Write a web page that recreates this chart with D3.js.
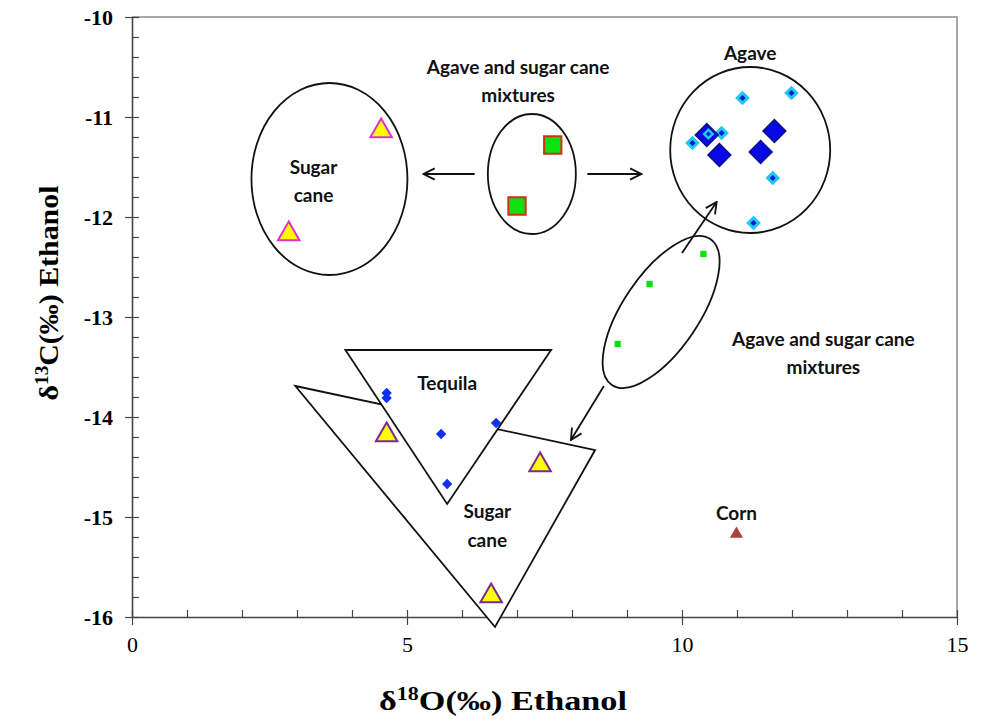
<!DOCTYPE html>
<html><head><meta charset="utf-8">
<script src="https://cdn.jsdelivr.net/npm/d3@7/dist/d3.min.js"></script>
<style>body{margin:0;background:#fff;}svg{display:block;}</style>
</head><body>
<svg id="chart" width="1000" height="724"></svg>
<script>
// ---------- data ----------
const xTicks = [0, 5, 10, 15];
const yTicks = [-10, -11, -12, -13, -14, -15, -16];

// Agave (large diamonds)
const agaveLargeX = [10.45, 10.68, 11.43, 11.68];
const agaveLargeY = [-11.18, -11.38, -11.35, -11.14];
// Agave (small diamonds)
const agaveSmallX = [11.10, 11.99, 10.19, 10.72, 10.48, 11.65, 11.30];
const agaveSmallY = [-10.81, -10.76, -11.26, -11.16, -11.17, -11.61, -12.06];
// Sugar cane (top ellipse)
const caneTopX = [4.53, 2.85];
const caneTopY = [-11.14, -12.17];
// Mixtures (top, squares)
const mixTopX = [7.65, 7.00];
const mixTopY = [-11.28, -11.89];
// Mixtures (small green squares)
const mixSmallX = [10.39, 9.41, 8.83];
const mixSmallY = [-12.37, -12.67, -13.27];
// Tequila (small blue diamonds)
const tequilaX = [4.63, 4.63, 5.62, 6.62, 5.73];
const tequilaY = [-13.76, -13.81, -14.17, -14.06, -14.67];
// Sugar cane (bottom triangles)
const caneBotX = [4.63, 7.42, 6.53];
const caneBotY = [-14.18, -14.48, -15.79];
// Corn
const cornX = [10.99];
const cornY = [-15.17];

// Region outlines (data coordinates)
const caneRegionX = [2.97, 8.42, 6.60];
const caneRegionY = [-13.69, -14.33, -16.10];
const tequilaRegionX = [3.88, 7.62, 5.73];
const tequilaRegionY = [-13.33, -13.33, -14.87];

// ---------- layout ----------
const svg = d3.select("#chart");
const L = 132, R = 957, T = 17, B = 617;
const x = d3.scaleLinear().domain([0, 15]).range([L, R]);
const y = d3.scaleLinear().domain([-16, -10]).range([B, T]);
const zip = (a, b) => a.map((v, i) => [v, b[i]]);
const kx = (R - L) / 15, ky = (B - T) / 6;

// plot frame (top + right, gray)
svg.append("path").attr("d", `M${L},${T}H${R}V${B}`).attr("fill", "none")
  .attr("stroke", "#8c8c8c").attr("stroke-width", 1.5);

// axes
const fmt = d => String(d);
const yAxis = svg.append("g").attr("transform", `translate(${L},0)`)
  .call(d3.axisLeft(y).tickValues(yTicks).tickFormat(fmt).tickSize(7).tickSizeOuter(0));
const yMinor = svg.append("g").attr("transform", `translate(${L},0)`)
  .call(d3.axisRight(y).tickValues(d3.range(-16, -9.99, 0.2)).tickFormat("").tickSize(7).tickSizeOuter(0));
const xAxis = svg.append("g").attr("transform", `translate(0,${B})`)
  .call(d3.axisBottom(x).tickValues(xTicks).tickFormat(fmt).tickSize(8).tickSizeOuter(0));
const xMinor = svg.append("g").attr("transform", `translate(0,${B})`)
  .call(d3.axisTop(x).tickValues(d3.range(0, 15.01, 1)).tickFormat("").tickSize(7).tickSizeOuter(0));
[yAxis, yMinor, xAxis, xMinor].forEach(g => {
  g.select(".domain").attr("stroke", "#444").attr("stroke-width", 1.6);
  g.selectAll(".tick line").attr("stroke", "#444").attr("stroke-width", 1.2);
});
yMinor.select(".domain").remove(); xMinor.select(".domain").remove();
yAxis.selectAll(".tick text").attr("font-family", "Liberation Serif").attr("font-weight", "bold")
  .attr("font-size", 22).attr("fill", "#000").attr("x", -19).attr("dy", "0.35em");
xAxis.selectAll(".tick text").attr("font-family", "Liberation Serif")
  .attr("font-size", 22).attr("fill", "#000").attr("y", 19).attr("dy", "0.71em");

// axis titles
const yt = svg.append("text").attr("transform", "translate(58,293) rotate(-90)")
  .attr("text-anchor", "middle").attr("font-family", "Liberation Serif").attr("font-weight", "bold")
  .attr("font-size", 28).attr("fill", "#000").attr("textLength", 215).attr("lengthAdjust", "spacingAndGlyphs");
yt.append("tspan").text("δ");
yt.append("tspan").text("13").attr("font-size", 18).attr("dy", -10);
yt.append("tspan").text("C(‰) Ethanol").attr("dy", 10);
const xt = svg.append("text").attr("transform", "translate(503,710)")
  .attr("text-anchor", "middle").attr("font-family", "Liberation Serif").attr("font-weight", "bold")
  .attr("font-size", 28).attr("fill", "#000").attr("textLength", 248).attr("lengthAdjust", "spacingAndGlyphs");
xt.append("tspan").text("δ");
xt.append("tspan").text("18").attr("font-size", 18).attr("dy", -10);
xt.append("tspan").text("O(‰) Ethanol").attr("dy", 10);

// ---------- region shapes ----------
const line = d3.line().x(d => x(d[0])).y(d => y(d[1]));
svg.append("path").datum(zip(caneRegionX, caneRegionY)).attr("d", d => line(d) + "Z")
  .attr("fill", "#fff").attr("stroke", "#111").attr("stroke-width", 1.8);
svg.append("path").datum(zip(tequilaRegionX, tequilaRegionY)).attr("d", d => line(d) + "Z")
  .attr("fill", "#fff").attr("stroke", "#111").attr("stroke-width", 1.8);

// ellipses: center (data), radii (data units)
const ellipses = [
  { cx: 3.59, cy: -11.62, rx: 78 / kx, ry: 96 / ky, rot: 0 },
  { cx: 7.27, cy: -11.57, rx: 44 / kx, ry: 60 / ky, rot: 0 },
  { cx: 11.24, cy: -11.33, rx: 80 / kx, ry: 83 / ky, rot: 0 },
  { cx: 9.62, cy: -12.95, rx: 88 / kx, ry: 38 / ky, rot: -56 }
];
svg.selectAll("ellipse.reg").data(ellipses).join("ellipse").attr("class", "reg")
  .attr("cx", 0).attr("cy", 0)
  .attr("rx", d => d.rx * kx).attr("ry", d => d.ry * ky)
  .attr("transform", d => `translate(${x(d.cx)},${y(d.cy)}) rotate(${d.rot})`)
  .attr("fill", "none").attr("stroke", "#111").attr("stroke-width", 1.8);

// arrows
svg.append("defs").append("marker").attr("id", "ah").attr("viewBox", "0 0 10 10")
  .attr("refX", 9).attr("refY", 5).attr("markerWidth", 14).attr("markerHeight", 14)
  .attr("markerUnits", "userSpaceOnUse").attr("orient", "auto")
  .append("path").attr("d", "M1,1L9,5L1,9").attr("fill", "none").attr("stroke", "#111").attr("stroke-width", 1.3);
const arrows = [
  [6.23, -11.57, 5.30, -11.57],
  [8.28, -11.57, 9.26, -11.57],
  [10.00, -12.36, 10.63, -11.85],
  [8.58, -13.69, 7.98, -14.23]
];
svg.selectAll("line.arr").data(arrows).join("line").attr("class", "arr")
  .attr("x1", d => x(d[0])).attr("y1", d => y(d[1])).attr("x2", d => x(d[2])).attr("y2", d => y(d[3]))
  .attr("stroke", "#111").attr("stroke-width", 1.8).attr("marker-end", "url(#ah)");

// ---------- markers ----------
const sym = (type, size) => d3.symbol().type(type).size(size)();
function pts(xs, ys, type, size, fill, stroke, sw, rot) {
  svg.append("g").selectAll("path").data(zip(xs, ys)).join("path")
    .attr("transform", d => `translate(${x(d[0])},${y(d[1])})` + (rot ? ` rotate(${rot})` : ""))
    .attr("d", sym(type, size)).attr("fill", fill).attr("stroke", stroke).attr("stroke-width", sw);
}
// agave small diamonds (cyan halo, dark center)
pts(agaveSmallX, agaveSmallY, d3.symbolSquare, 55, "#0a1fd0", "#22c8f5", 3, 45);
// agave large diamonds
pts(agaveLargeX, agaveLargeY, d3.symbolSquare, 260, "#0808e6", "#101080", 1.5, 45);
// redraw the small diamond that sits over a large one
pts([agaveSmallX[4]], [agaveSmallY[4]], d3.symbolSquare, 36, "#0a1fd0", "#22c8f5", 2.5, 45);
// sugar cane top triangles
pts(caneTopX, caneTopY, d3.symbolTriangle, 200, "#ffff00", "#e030d0", 2);
// mixtures top squares
pts(mixTopX, mixTopY, d3.symbolSquare, 300, "#10e010", "#d03018", 2);
// small green squares
pts(mixSmallX, mixSmallY, d3.symbolSquare, 40, "#10e010", "none", 0);
// tequila small diamonds
pts(tequilaX, tequilaY, d3.symbolSquare, 40, "#1030f0", "#1030f0", 1, 45);
// sugar cane bottom triangles
pts(caneBotX, caneBotY, d3.symbolTriangle, 200, "#ffff00", "#7a2a90", 2);
// corn
pts(cornX, cornY, d3.symbolTriangle, 75, "#a8443c", "none", 0);

// ---------- annotations ----------
const labels = [
  ["Agave", 11.24, -10.36],
  ["Agave and sugar cane", 7.02, -10.50],
  ["mixtures", 7.02, -10.78],
  ["Sugar", 3.30, -11.50],
  ["cane", 3.30, -11.78],
  ["Agave and sugar cane", 12.57, -13.22],
  ["mixtures", 12.57, -13.50],
  ["Tequila", 5.73, -13.66],
  ["Sugar", 6.46, -14.94],
  ["cane", 6.46, -15.23],
  ["Corn", 10.99, -14.96]
];
svg.selectAll("text.lab").data(labels).join("text").attr("class", "lab")
  .attr("x", d => x(d[1])).attr("y", d => y(d[2])).attr("dy", "0.35em")
  .attr("text-anchor", "middle").attr("font-family", "Lato").attr("font-weight", "bold")
  .attr("font-size", 19).attr("fill", "#111").text(d => d[0]);
</script>
</body></html>
